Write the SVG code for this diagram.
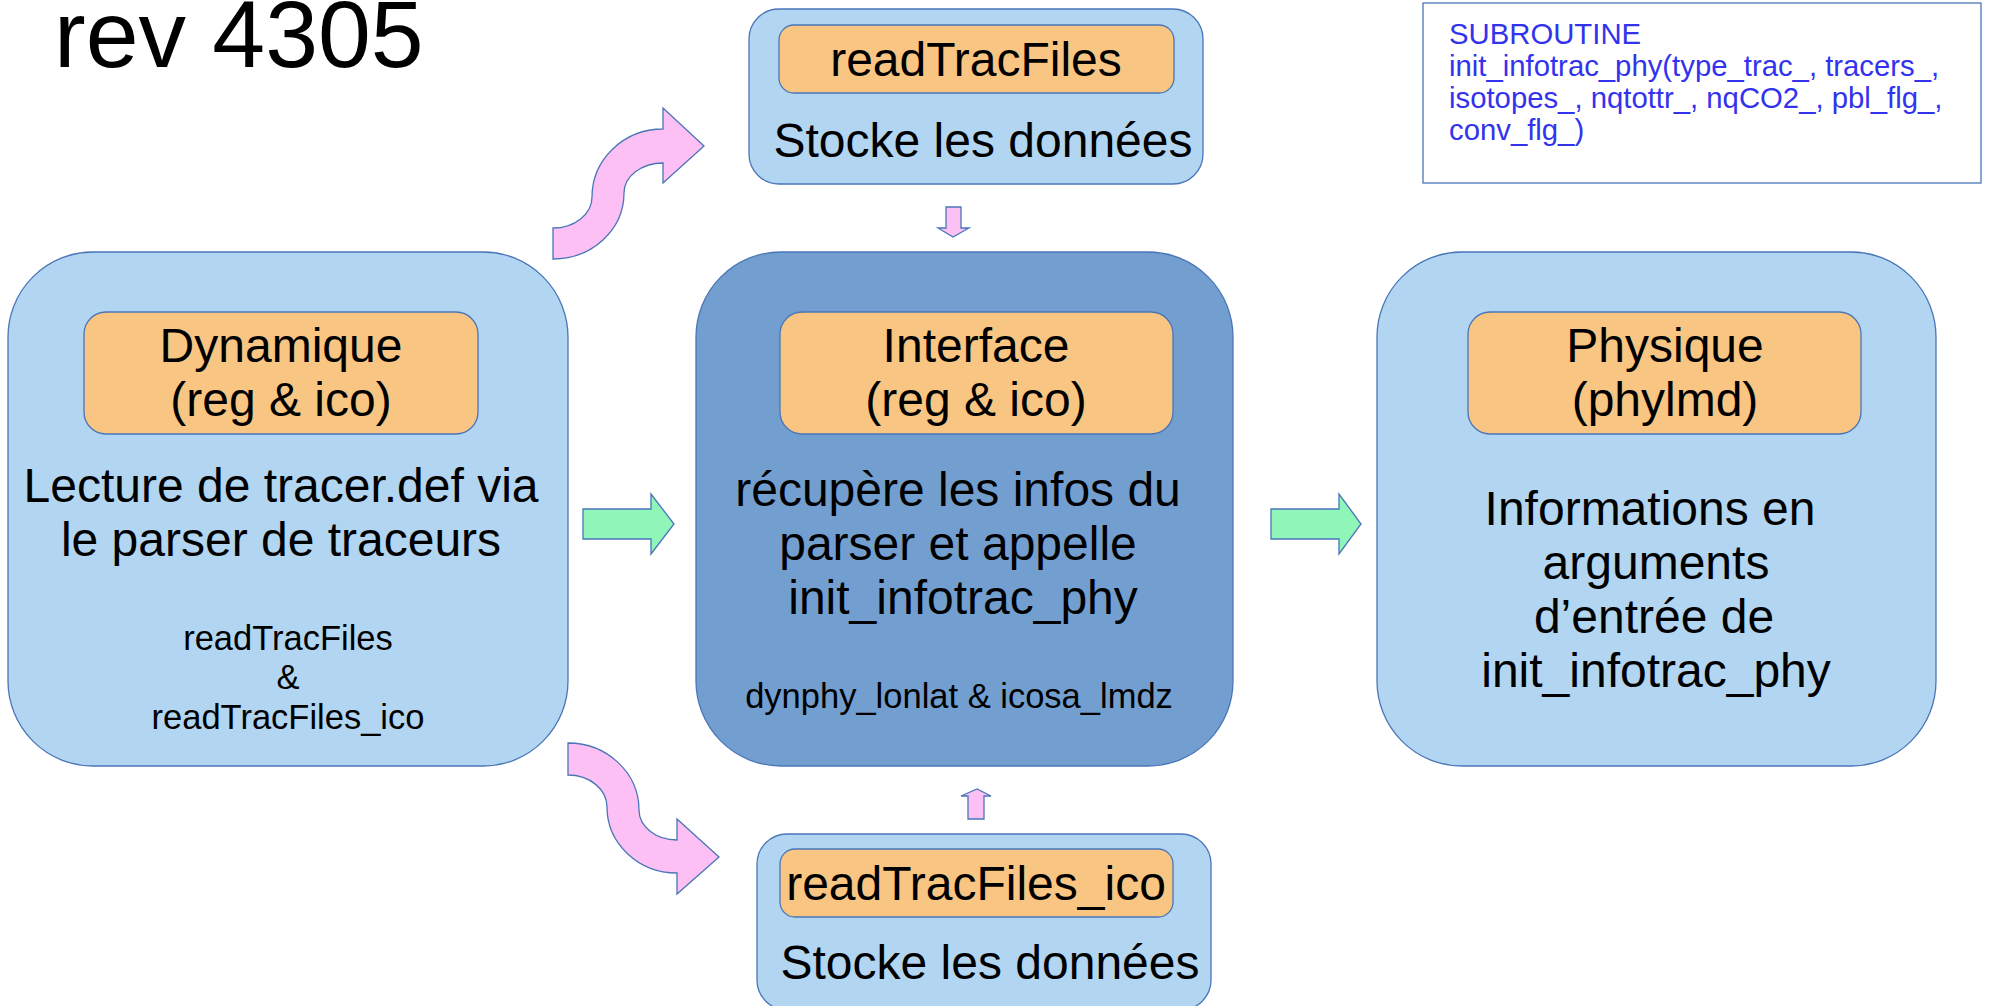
<svg xmlns="http://www.w3.org/2000/svg" width="1989" height="1006" viewBox="0 0 1989 1006">
<style>
text{font-family:"Liberation Sans",Arial,sans-serif;fill:#000;text-anchor:middle}
.big{fill:#b2d5f1;stroke:#4a76b8;stroke-width:1.3}
.dark{fill:#729fcf;stroke:#4a76b8;stroke-width:1.3}
.tag{fill:#f8c583;stroke:#4a76b8;stroke-width:1.3}
.t47{font-size:48px}
.t34{font-size:34.5px}
.pink{fill:#fdc0f4;stroke:#4a76b8;stroke-width:1.3}
.green{fill:#90f5b8;stroke:#4a76b8;stroke-width:1.3}
.code{font-size:29.3px;fill:#3333ee;text-anchor:start}
</style>
<rect width="1989" height="1006" fill="#fff"/>
<text x="54" y="67" font-size="95" style="text-anchor:start">rev 4305</text>

<g id="readTracFiles">
<rect class="big" x="749" y="9" width="454" height="175" rx="30"/>
<rect class="tag" x="779" y="25" width="395" height="68" rx="15"/>
<text class="t47" x="976" y="76">readTracFiles</text>
<text class="t47" x="983" y="157">Stocke les données</text>
</g>

<g id="subroutine">
<rect x="1423" y="3" width="558" height="180" fill="#fff" stroke="#4a76b8" stroke-width="1.3"/>
<text class="code" x="1449" y="44">SUBROUTINE</text>
<text class="code" x="1449" y="76">init_infotrac_phy(type_trac_, tracers_,</text>
<text class="code" x="1449" y="108">isotopes_, nqtottr_, nqCO2_, pbl_flg_,</text>
<text class="code" x="1449" y="140">conv_flg_)</text>
</g>

<g id="dynamique">
<rect class="big" x="8" y="252" width="560" height="514" rx="85"/>
<rect class="tag" x="84" y="312" width="394" height="122" rx="22"/>
<text class="t47" x="281" y="362">Dynamique</text>
<text class="t47" x="281" y="416">(reg &amp; ico)</text>
<text class="t47" x="281" y="502">Lecture de tracer.def via</text>
<text class="t47" x="281" y="556">le parser de traceurs</text>
<text class="t34" x="288" y="650">readTracFiles</text>
<text class="t34" x="288" y="689">&amp;</text>
<text class="t34" x="288" y="729">readTracFiles_ico</text>
</g>

<g id="interface">
<rect class="dark" x="696" y="252" width="537" height="514" rx="85"/>
<rect class="tag" x="780" y="312" width="393" height="122" rx="22"/>
<text class="t47" x="976" y="362">Interface</text>
<text class="t47" x="976" y="416">(reg &amp; ico)</text>
<text class="t47" x="958" y="506">récupère les infos du</text>
<text class="t47" x="958" y="560">parser et appelle</text>
<text class="t47" x="963" y="614">init_infotrac_phy</text>
<text class="t34" x="959" y="708">dynphy_lonlat &amp; icosa_lmdz</text>
</g>

<g id="physique">
<rect class="big" x="1377" y="252" width="559" height="514" rx="85"/>
<rect class="tag" x="1468" y="312" width="393" height="122" rx="22"/>
<text class="t47" x="1665" y="362">Physique</text>
<text class="t47" x="1665" y="416">(phylmd)</text>
<text class="t47" x="1650" y="525">Informations en</text>
<text class="t47" x="1656" y="579">arguments</text>
<text class="t47" x="1654" y="633">d’entrée de</text>
<text class="t47" x="1656" y="687">init_infotrac_phy</text>
</g>

<g id="readTracFiles_ico">
<rect class="big" x="757" y="834" width="454" height="176" rx="30"/>
<rect class="tag" x="780" y="849" width="393" height="68" rx="15"/>
<text class="t47" x="976" y="900">readTracFiles_ico</text>
<text class="t47" x="990" y="979">Stocke les données</text>
</g>

<g id="connectors">
<path class="pink" d="M553,228 A39,31 0 0 0 592,197 A71,68 0 0 1 663,129 L663,108 L704,146 L663,183 L663,163 A39,30 0 0 0 624,193 A71,66 0 0 1 553,259 Z"/>
<path class="pink" d="M568,743 A71,67 0 0 1 639,810 A38,30 0 0 0 677,840 L677,819 L719,857 L677,894 L677,873 A70,66 0 0 1 607,807 A39,32 0 0 0 568,775 Z"/>
<path class="pink" d="M946,207 L961,207 L961,228 L969,228 L953,237 L938,228 L946,228 Z"/>
<path class="pink" d="M968,819 L968,796 L961,796 L977,789 L991,796 L984,796 L984,819 Z"/>
<path class="green" d="M583,509 L651,509 L651,494 L674,524 L651,554 L651,539 L583,539 Z"/>
<path class="green" d="M1271,509 L1339,509 L1339,494 L1361,524 L1339,554 L1339,539 L1271,539 Z"/>
</g>
</svg>
